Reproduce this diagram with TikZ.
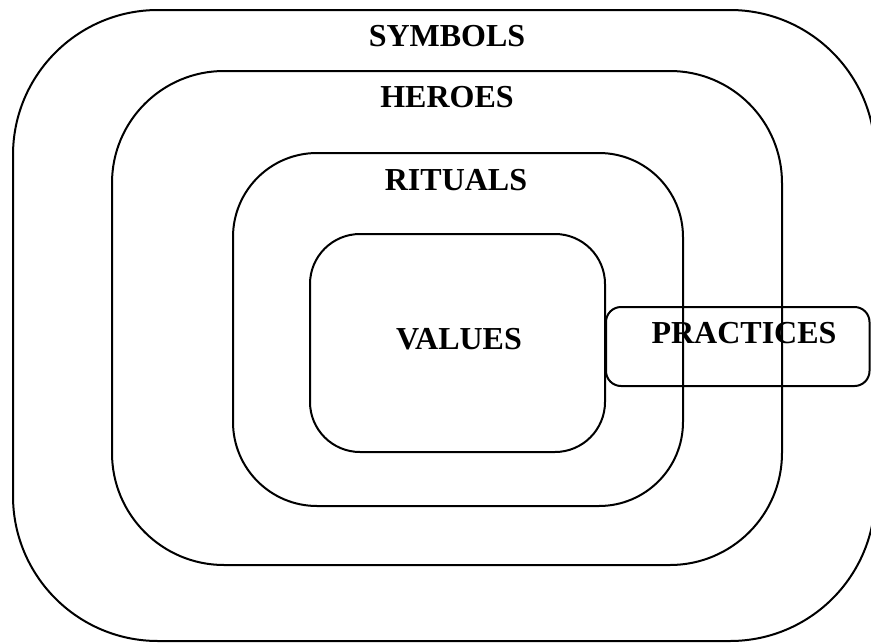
\documentclass[tikz,border=0pt]{standalone}
\usepackage{fontspec}
\setmainfont{Liberation Serif}
\usepackage{tikz}

\tikzset{
  ring/.style={draw, line width=2pt},
  lbl/.style={font=\bfseries\fontsize{32}{32}\selectfont, inner sep=0pt, anchor=base}
}

\begin{document}
\begin{tikzpicture}[x=1pt, y=-1pt]
    \useasboundingbox (0,0) rectangle (871,643);

    \draw[ring, rounded corners=145pt] (13,10) rectangle (875,641);
    \node[lbl] (symbols) at (447,46) {SYMBOLS};

    \draw[ring, rounded corners=112pt] (112,71) rectangle (782,565);
    \node[lbl] (heroes) at (447,107) {HEROES};

    \draw[ring, rounded corners=84pt] (233,153) rectangle (683,506);
    \node[lbl] (rituals) at (456,190) {RITUALS};

    \draw[ring, rounded corners=50pt] (310,234) rectangle (605,452);
    \node[lbl] (values) at (459,349) {VALUES};

    \draw[ring, rounded corners=15pt] (606,307) rectangle (869.5,386);
    \node[lbl] (practices) at (744,343) {PRACTICES};

\end{tikzpicture}
\end{document}
